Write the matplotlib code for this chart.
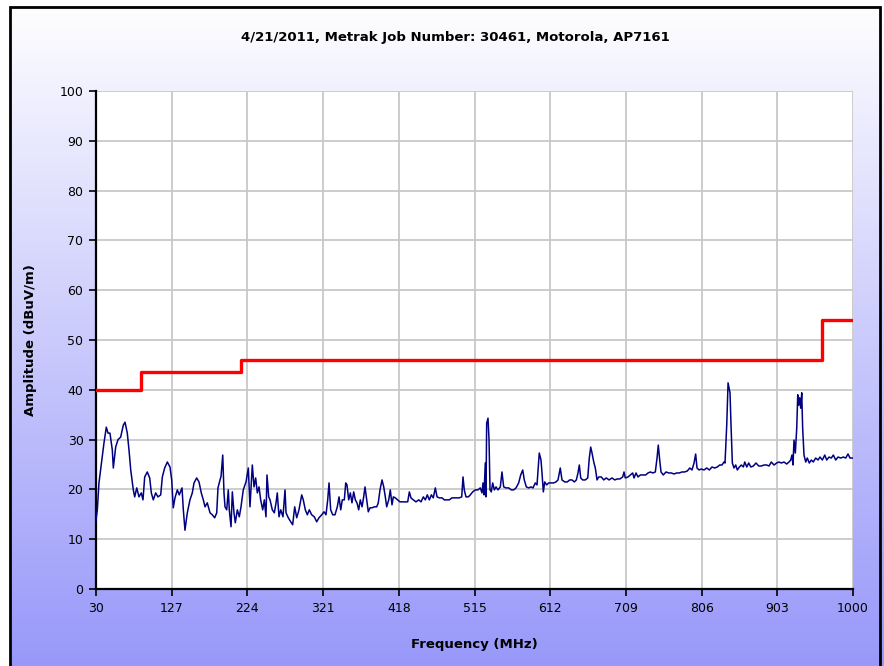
import numpy as np
import matplotlib
matplotlib.use("Agg")
import matplotlib.pyplot as plt
from matplotlib.patches import Rectangle

title = "4/21/2011, Metrak Job Number: 30461, Motorola, AP7161"
xlabel = "Frequency (MHz)"
ylabel = "Amplitude (dBuV/m)"
xticks = [30, 127, 224, 321, 418, 515, 612, 709, 806, 903, 1000]
yticks = [0, 10, 20, 30, 40, 50, 60, 70, 80, 90, 100]

# limit line (steps)
limit_freq = [30, 88, 88, 216, 216, 960, 960, 1000]
limit_amp = [40, 40, 43.5, 43.5, 46, 46, 54, 54]

# measured trace
freq = [30, 31.7, 33.8, 36.4, 40.2, 43.2, 45.4, 47.9, 50.9, 52.2, 55.2, 58.2, 61.6, 65.0, 67.2,
        70.1, 72.3, 74.5, 77.8, 79.6, 82.2, 85.1, 88.0, 90.2, 92.4, 95.7, 98.8, 100.9, 103.4,
        106.5, 109.4, 112.9, 115.0, 118.0, 121.4, 124.8, 127.0, 129.0, 131.2, 134.2, 136.7,
        140.2, 141.9, 144.0, 147.0, 150.4, 153.4, 155.6, 159.0, 162.0, 164.9, 167.5, 169.7,
        172.6, 176.1, 179.0, 182.1, 184.7, 186.3, 188.9,
        190.2, 192.4, 194.0, 195.3, 197.5, 199.5, 200.8, 203.0, 204.7, 206.8, 208.5, 211.1,
        213.6, 215.8, 218.7, 222.2, 225.2, 227.3, 230.3, 232.5, 234.6, 236.7, 238.9, 241.0,
        243.6, 245.7, 247.8, 249.1, 251.3, 253.0, 255.9, 258.5, 260.7, 262.3, 264.5, 266.7,
        269.6, 272.2, 273.5, 276.4, 279.5, 282.0, 284.6, 287.2, 290.1, 293.6, 295.6, 298.2,
        300.8, 303.3, 306.4, 309.7, 312.8, 315.7, 319.2, 322.2, 324.7, 326.9, 328.6, 330.7,
        333.3, 336.2, 339.2, 341.4, 343.6, 345.6, 348.2, 350.0,
        351.6, 353.8, 355.9, 358.0, 360.2, 362.3, 364.4, 366.6, 368.7, 370.9, 373.0, 374.7,
        376.9, 378.9, 381.1, 383.7, 386.6, 389.7, 391.7, 393.9, 396.5, 398.7, 400.7, 402.5,
        405.1, 407.1, 409.3, 411.0, 413.5, 416.6, 419.5, 423.0, 426.3, 429.4, 431.5, 433.6,
        436.6, 440.0, 443.5, 446.5, 449.4, 452.0, 454.5, 457.1, 459.7, 462.2, 464.8, 467.0,
        469.9, 473.4, 476.3, 479.8, 482.7, 486.2, 489.1, 492.6, 495.5, 498.6, 500.3, 501.9,
        504.1, 507.1, 509.6, 512.7,
        516.0, 519.5, 522.4, 524.6, 525.9, 527.2, 528.8, 529.7, 530.6, 532.3, 533.6, 534.9,
        536.5, 538.3, 540.4, 542.6, 545.1, 548.1, 550.2, 552.4, 555.4, 558.8, 562.2, 565.2,
        568.2, 571.6, 574.2, 576.8, 578.8, 581.4, 584.5, 587.4, 590.0, 592.9, 595.1, 596.4,
        598.0, 600.2, 601.5, 603.2, 605.0, 607.5, 610.1, 613.4, 616.5, 619.4, 622.0, 624.9,
        627.1, 630.6, 633.9, 637.0, 639.9, 642.9, 645.5, 647.6, 649.3, 651.1, 653.6, 657.0,
        660.1, 662.1, 663.9, 665.6, 667.8, 669.8, 672.0, 674.2,
        677.5, 680.6, 683.9, 687.4, 691.2, 694.7, 698.0, 701.4, 704.9, 706.6, 708.2, 711.7,
        714.6, 717.7, 719.4, 722.0, 724.5, 727.5, 730.9, 734.4, 737.3, 740.3, 743.7, 746.7,
        748.9, 750.5, 752.3, 754.0, 756.9, 760.4, 763.8, 767.2, 770.6, 774.1, 777.4, 780.9,
        784.3, 787.7, 790.8, 793.7, 796.3, 798.4, 800.1, 802.7, 805.6, 809.1, 812.5, 815.9,
        819.3, 822.8, 826.1, 829.2, 832.1, 834.7, 836.0,
        838.2, 839.9, 841.2, 842.4, 843.7, 845.4, 847.5, 849.7, 851.8, 854.4, 856.9, 859.5,
        861.3, 863.9, 866.4, 869.0, 872.3, 875.7, 879.2, 882.5, 886.0, 889.4, 892.4, 895.3,
        898.8, 902.2, 905.2, 908.1, 911.6, 915.0, 918.0, 920.2, 921.8, 923.1, 924.4, 926.1,
        927.9, 929.2, 930.4, 931.7, 933.0, 934.3, 935.5, 937.2, 939.4, 941.4, 944.0, 946.6,
        949.1, 952.2, 955.2, 957.7, 960.7, 963.8, 966.3, 969.3, 972.2, 974.8, 977.9, 980.8,
        984.3, 987.6, 990.7, 993.6, 996.2, 1000]

amp = [13.8, 15.9, 21.3, 24.5, 29.3, 32.5, 31.3, 31.3, 27.9, 24.3, 28.5, 30.0, 30.5, 32.9, 33.5,
       31.3, 27.9, 23.9, 19.9, 18.5, 20.3, 18.5, 19.3, 17.9, 22.5, 23.5, 22.3, 19.3, 17.9,
       19.3, 18.5, 18.9, 22.5, 24.3, 25.5, 24.5, 21.9, 16.3, 18.3, 19.9, 18.9,
       20.3, 15.9, 11.8, 15.3, 17.9, 19.3, 21.3, 22.3, 21.5, 19.3, 17.9, 16.5,
       17.3, 15.3, 14.9, 14.3, 15.3, 20.3, 21.9,
       22.6, 26.9, 19.3, 16.5, 15.9, 19.9, 15.9, 12.5, 19.5, 15.3, 13.3, 15.9,
       14.5, 16.5, 19.9, 21.5, 24.3, 16.5, 24.9, 20.5, 22.3, 19.3, 20.5, 17.9,
       15.9, 17.9, 14.5, 22.9, 18.5, 17.9, 15.9, 15.3, 17.3, 19.3, 14.5, 15.9,
       14.5, 19.9, 15.3, 14.3, 13.5, 12.9, 16.5, 14.3, 15.9, 18.9, 17.9, 15.9,
       14.9, 15.9, 14.9, 14.5, 13.5, 14.3, 14.9, 15.5, 14.9, 17.9, 21.3, 15.9,
       14.9, 14.9, 16.5, 18.5, 15.9, 17.9, 17.9, 21.3,
       20.9, 17.9, 19.3, 17.3, 19.5, 17.9, 17.3, 15.9, 17.9, 16.5, 18.5, 20.5,
       17.9, 15.5, 16.3, 16.3, 16.5, 16.5, 17.3, 19.9, 21.9, 20.5, 18.5, 16.5,
       17.9, 19.9, 16.9, 18.5, 18.3, 17.9, 17.5, 17.5, 17.5, 17.5, 19.5, 18.3,
       17.9, 17.5, 17.9, 17.5, 18.5, 17.9, 18.9, 17.9, 18.9, 18.3, 20.3, 18.5,
       18.3, 18.3, 17.9, 17.9, 17.9, 18.3, 18.3, 18.3, 18.3, 18.5, 22.5, 19.9,
       18.5, 18.5, 18.9, 19.5,
       19.9, 19.9, 20.3, 19.3, 21.3, 18.9, 25.3, 18.5, 33.3, 34.3, 30.0, 19.9,
       19.5, 21.3, 19.9, 20.5, 19.9, 20.5, 23.5, 20.5, 20.3, 20.3, 19.9, 19.9,
       20.3, 21.3, 22.9, 23.9, 21.9, 20.5, 20.3, 20.5, 20.3, 21.3, 20.9, 23.9,
       27.3, 25.9, 23.3, 19.5, 21.5, 20.9, 21.3, 21.3, 21.3, 21.5, 21.9, 24.3,
       21.9, 21.5, 21.5, 21.9, 21.9, 21.5, 21.9, 23.3, 24.9, 22.3, 21.9, 21.9,
       22.3, 26.3, 28.5, 27.3, 25.5, 24.3, 21.9, 22.5,
       22.5, 21.9, 22.3, 21.9, 22.3, 21.9, 22.1, 22.1, 22.5, 23.5, 22.3, 22.5,
       22.9, 23.3, 22.3, 23.3, 22.5, 22.9, 22.9, 22.9, 23.3, 23.5, 23.3, 23.5,
       26.3, 28.9, 25.9, 23.5, 22.9, 23.5, 23.3, 23.3, 23.1, 23.3, 23.3, 23.5,
       23.5, 23.7, 24.3, 23.9, 25.3, 27.1, 24.3, 23.9, 24.1, 23.9, 24.3, 23.9,
       24.5, 24.3, 24.5, 24.9, 24.9, 25.5, 25.3,
       32.9, 41.4, 40.4, 39.4, 32.9, 25.3, 24.3, 24.9, 23.9, 24.5, 24.9, 24.5,
       25.5, 24.5, 25.3, 24.5, 24.7, 25.3, 24.7, 24.7, 24.9, 24.9, 24.7, 25.5,
       24.9, 25.3, 25.5, 25.3, 25.5, 25.1, 25.5, 25.9, 26.9, 24.9, 29.9, 27.3,
       32.3, 39.0, 36.9, 38.4, 36.3, 39.4, 32.3, 26.9, 25.5, 26.3, 25.3, 25.9,
       25.5, 26.3, 25.9, 26.5, 25.9, 26.9, 25.9, 26.5, 26.3, 26.9, 25.9, 26.5,
       26.3, 26.5, 26.3, 27.1, 26.3, 26.3]

W, H = 884, 666
fig = plt.figure(figsize=(W / 100, H / 100), dpi=100)

# gradient background
bg = fig.add_axes([0, 0, 1, 1], zorder=-10)
t = np.linspace(0, 1, 256)[:, None]
top = np.array([255, 255, 255]) / 255.0
bot = np.array([152, 152, 250]) / 255.0
grad = top[None, None, :] * (1 - t[:, :, None]) + bot[None, None, :] * t[:, :, None]
grad = np.repeat(grad, 2, axis=1)
bg.imshow(grad, aspect="auto", extent=[0, 1, 0, 1], origin="upper")
bg.set_xlim(0, 1)
bg.set_ylim(0, 1)
bg.axis("off")
# white margin outside border and border
bg.add_patch(Rectangle((0, 1 - 7 / H), 1, 7 / H, color="white", zorder=2))
bg.add_patch(Rectangle((0, 0), 10 / W, 1, color="white", zorder=2))
bg.add_patch(Rectangle((10 / W, -0.05), 870 / W, 1.05 - 7 / H, fill=False,
                       edgecolor="black", linewidth=2.0, zorder=3))

ax = fig.add_axes([96 / W, 1 - 589 / H, (853 - 96) / W, (589 - 91) / H])
ax.set_facecolor("white")
ax.plot(limit_freq, limit_amp, color="#ff0000", linewidth=2.4, zorder=3)
ax.plot(freq, amp, color="#000080", linewidth=1.1, zorder=4)

ax.set_xlim(30, 1000)
ax.set_ylim(0, 100)
ax.set_xticks(xticks)
ax.set_yticks(yticks)
ax.grid(True, color="#c8c8c8", linewidth=1.3, zorder=0)
ax.set_axisbelow(True)
for s in ["top", "right"]:
    ax.spines[s].set_visible(False)
for s in ["left", "bottom"]:
    ax.spines[s].set_color("black")
    ax.spines[s].set_linewidth(1.6)
ax.tick_params(axis="both", direction="out", length=5, width=1.2, labelsize=9,
               colors="black", pad=4)

ax.set_xlabel(xlabel, fontsize=9.5, fontweight="bold", labelpad=17)
ax.set_ylabel(ylabel, fontsize=9.5, fontweight="bold", labelpad=16)
fig.text(455 / W, 1 - 38 / H, title, ha="center", va="center", fontsize=9.5,
         fontweight="bold")

fig.savefig("out.png", dpi=100)
